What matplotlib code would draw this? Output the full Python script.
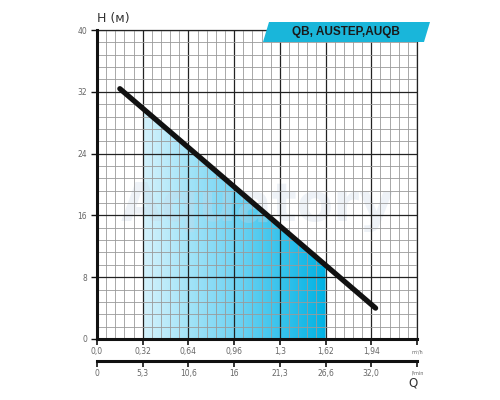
import numpy as np
import matplotlib
matplotlib.use("Agg")
import matplotlib.pyplot as plt
from matplotlib.colors import LinearSegmentedColormap
from matplotlib.patches import Polygon

# ---- data ----
q_ticks = [0, 0.32, 0.64, 0.96, 1.28, 1.60, 1.92, 2.24]
q_labels_m3h = ['0,0', '0,32', '0,64', '0,96', '1,3', '1,62', '1,94', '']
q_labels_lmin = ['0', '5,3', '10,6', '16', '21,3', '26,6', '32,0', '']
h_ticks = [0, 8, 16, 24, 32, 40]
h_labels = ['0', '8', '16', '24', '32', '40']
curve_q = [0.16, 1.95]
curve_h = [32.4, 4.0]
fill_q = [0.32, 1.60]
title = 'QB, AUSTEP,AUQB'

fig = plt.figure(figsize=(5, 4), dpi=100)
ax = fig.add_axes([0.194, 0.1525, 0.64, 0.7725])
ax.set_xlim(q_ticks[0], q_ticks[-1])
ax.set_ylim(h_ticks[0], h_ticks[-1])

# gradient fill under curve
cmap = LinearSegmentedColormap.from_list('g', ['#d4f2fc', '#72d4f3', '#00b2e4'])
grad = np.linspace(0, 1, 256).reshape(1, -1)
im = ax.imshow(grad, extent=[fill_q[0], fill_q[1], 0, 40], aspect='auto',
               cmap=cmap, zorder=1, origin='lower')
def h_at(q):
    return np.interp(q, curve_q, curve_h)
poly = Polygon([(fill_q[0], 0), (fill_q[0], h_at(fill_q[0])),
                (fill_q[1], h_at(fill_q[1])), (fill_q[1], 0)],
               closed=True, transform=ax.transData, facecolor='none', edgecolor='none')
ax.add_patch(poly)
im.set_clip_path(poly)

# watermark
ax.text(0.5, 0.43, 'Aquatory', transform=ax.transAxes, ha='center', va='center',
        fontsize=38, fontweight='bold', color='#c9d6e6', alpha=0.3, zorder=2)

# grid
ax.set_xticks(q_ticks)
ax.set_yticks(h_ticks)
ax.set_xticks(np.arange(0, 2.2401, 0.064), minor=True)
ax.set_yticks(np.arange(0, 40.01, 1.6), minor=True)
ax.grid(which='minor', color='#9a9a9a', lw=0.6, zorder=2.4)
ax.grid(which='major', color='#222222', lw=0.9, zorder=2.5)
ax.set_axisbelow(False)

ax.plot(curve_q, curve_h, color='#111111', lw=3.8, solid_capstyle='round', zorder=4)

for s in ['top', 'right']:
    ax.spines[s].set_color('#222222')
    ax.spines[s].set_linewidth(0.9)
for s in ['left', 'bottom']:
    ax.spines[s].set_color('#111111')
    ax.spines[s].set_linewidth(2.2)
    ax.spines[s].set_zorder(5)

ax.set_xticklabels(q_labels_m3h, fontsize=5.5, color='#666666')
ax.set_yticklabels(h_labels, fontsize=5.5, color='#666666')
ax.tick_params(axis='x', which='major', direction='out', length=4, width=1.2, color='#111111', pad=2)
ax.tick_params(axis='y', which='major', direction='out', length=4, width=1.0, color='#111111', pad=3)
ax.tick_params(which='minor', length=0)

# second axis (l/min)
ax2 = fig.add_axes([0.194, 0.0975, 0.64, 0.0001])
ax2.set_xlim(q_ticks[0], q_ticks[-1])
ax2.set_yticks([])
for s in ['top', 'right', 'left']:
    ax2.spines[s].set_visible(False)
ax2.spines['bottom'].set_linewidth(2.2)
ax2.spines['bottom'].set_color('#111111')
ax2.set_xticks(q_ticks)
ax2.set_xticklabels(q_labels_lmin, fontsize=5.5, color='#666666')
ax2.tick_params(axis='x', direction='out', length=4, width=1.2, color='#111111', pad=2)
ax2.patch.set_visible(False)

# axis labels / units
fig.text(0.194, 0.953, 'H (м)', fontsize=9, color='#333333', ha='left', va='center')
fig.text(0.835, 0.119, 'm³/h', fontsize=3.5, color='#666666', ha='center', va='center')
fig.text(0.835, 0.068, 'l/min', fontsize=3.5, color='#666666', ha='center', va='center')
fig.text(0.826, 0.043, 'Q', fontsize=8.5, color='#333333', ha='center', va='center')

# title badge
badge = Polygon([(269/500, 1-22/400), (430/500, 1-22/400), (424/500, 1-42/400), (263/500, 1-42/400)],
                closed=True, transform=fig.transFigure, facecolor='#19b6da', edgecolor='none')
fig.patches.append(badge)
fig.text(346/500, 1-32/400, title, fontsize=8.5, fontweight='bold', color='#1a1a1a',
         ha='center', va='center', family=['Liberation Sans', 'DejaVu Sans'])

fig.savefig('out.png', dpi=100)
